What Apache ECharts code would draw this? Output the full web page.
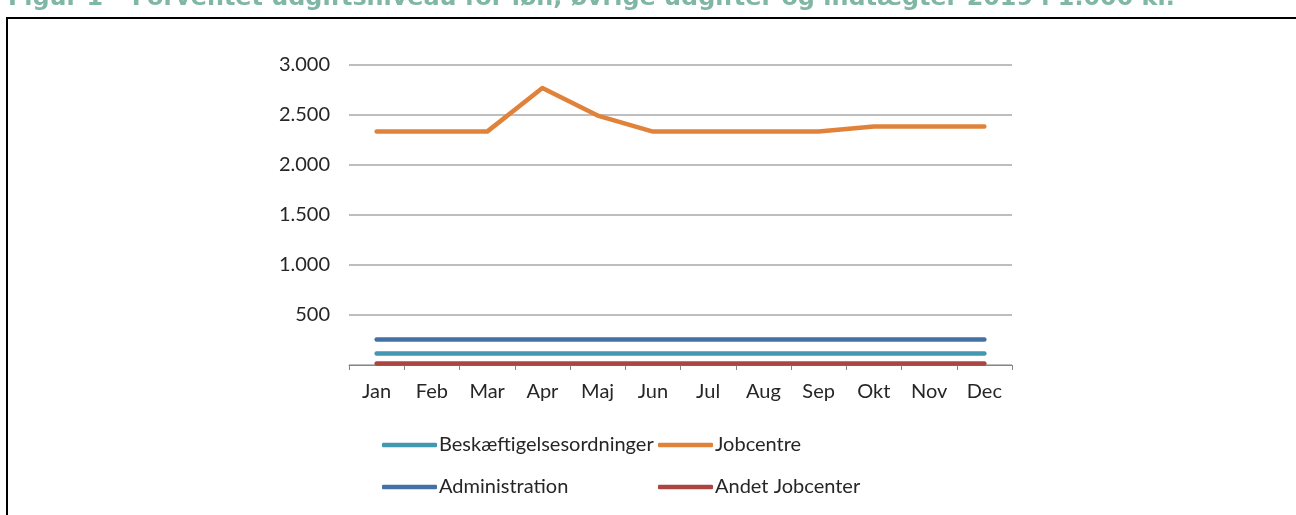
<!DOCTYPE html>
<html>
<head>
<meta charset="utf-8">
<script src="https://cdn.jsdelivr.net/npm/echarts@6/dist/echarts.min.js"></script>
<style>
html,body{margin:0;padding:0;background:#fff;}
#c{width:1296px;height:515px;}
</style>
</head>
<body>
<div id="c"></div>
<script>
const titleText = 'Figur 1 – Forventet udgiftsniveau for løn, øvrige udgifter og indtægter 2019 i 1.000 kr.';
const months = ['Jan','Feb','Mar','Apr','Maj','Jun','Jul','Aug','Sep','Okt','Nov','Dec'];
const beskaeftigelse = [115,115,115,115,115,115,115,115,115,115,115,115];
const jobcentre = [2330,2330,2330,2765,2490,2330,2330,2330,2330,2380,2380,2380];
const administration = [255,255,255,255,255,255,255,255,255,255,255,255];
const andetJobcenter = [15,15,15,15,15,15,15,15,15,15,15,15];
const yTicks = {min:0, max:3000, interval:500};

const colors = {
  'Beskæftigelsesordninger':'#4198B0',
  'Jobcentre':'#E0823A',
  'Administration':'#4470A6',
  'Andet Jobcenter':'#AC4541'
};
const FONT = 'Lato, "Open Sans", sans-serif';
const FS = 20;

// fit title font to the width it spans in the reference
const cv = document.createElement('canvas').getContext('2d');
cv.font = 'bold 20px "DejaVu Sans"';
const w20 = cv.measureText(titleText).width;
const titleFS = 20 * 1167 / w20;

function mkSeries(name, data, z){
  return {name, type:'line', data, showSymbol:false, symbol:'none', z,
    lineStyle:{width:4.5, color:colors[name], cap:'round', join:'round'},
    itemStyle:{color:colors[name]}};
}
function mkLegend(name, left, top){
  return {data:[name], left, top, icon:'roundRect', itemWidth:55, itemHeight:4.5, itemGap:0,
    textStyle:{fontFamily:FONT, fontSize:FS, color:'#262626', padding:[0,0,0,-3]}, padding:0};
}

const chart = echarts.init(document.getElementById('c'), null, {renderer:'canvas'});
chart.setOption({
  animation:false,
  backgroundColor:'#fff',
  graphic:[
    {type:'text', x:8, y:-13, style:{text:titleText, font:'bold '+titleFS.toFixed(2)+'px "DejaVu Sans"', fill:'#7FB6A5'}},
    {type:'rect', shape:{x:7, y:18, width:1300, height:520}, style:{fill:'none', stroke:'#000', lineWidth:2}}
  ],
  grid:{left:349, right:284, top:64.5, bottom:150, containLabel:false},
  legend:[
    mkLegend('Beskæftigelsesordninger', 382, 435),
    mkLegend('Jobcentre', 658, 435),
    mkLegend('Administration', 382, 477),
    mkLegend('Andet Jobcenter', 658, 477)
  ],
  xAxis:{type:'category', data:months, boundaryGap:true,
    axisLine:{lineStyle:{color:'#868686', width:1}},
    axisTick:{show:true, length:5, lineStyle:{color:'#868686'}},
    axisLabel:{fontFamily:FONT, fontSize:FS, color:'#262626', margin:17}},
  yAxis:{type:'value', min:yTicks.min, max:yTicks.max, interval:yTicks.interval,
    axisLine:{show:false}, axisTick:{show:false},
    splitLine:{lineStyle:{color:'#A8A8A8', width:1.5}},
    axisLabel:{fontFamily:FONT, fontSize:FS, color:'#262626', margin:19,
      formatter:v=> v===0 ? '' : (v>=1000 ? Math.floor(v/1000)+'.'+String(v%1000).padStart(3,'0') : String(v))}},
  series:[
    mkSeries('Beskæftigelsesordninger', beskaeftigelse, 3),
    mkSeries('Jobcentre', jobcentre, 4),
    mkSeries('Administration', administration, 3),
    mkSeries('Andet Jobcenter', andetJobcenter, 3)
  ]
});
</script>
</body>
</html>
